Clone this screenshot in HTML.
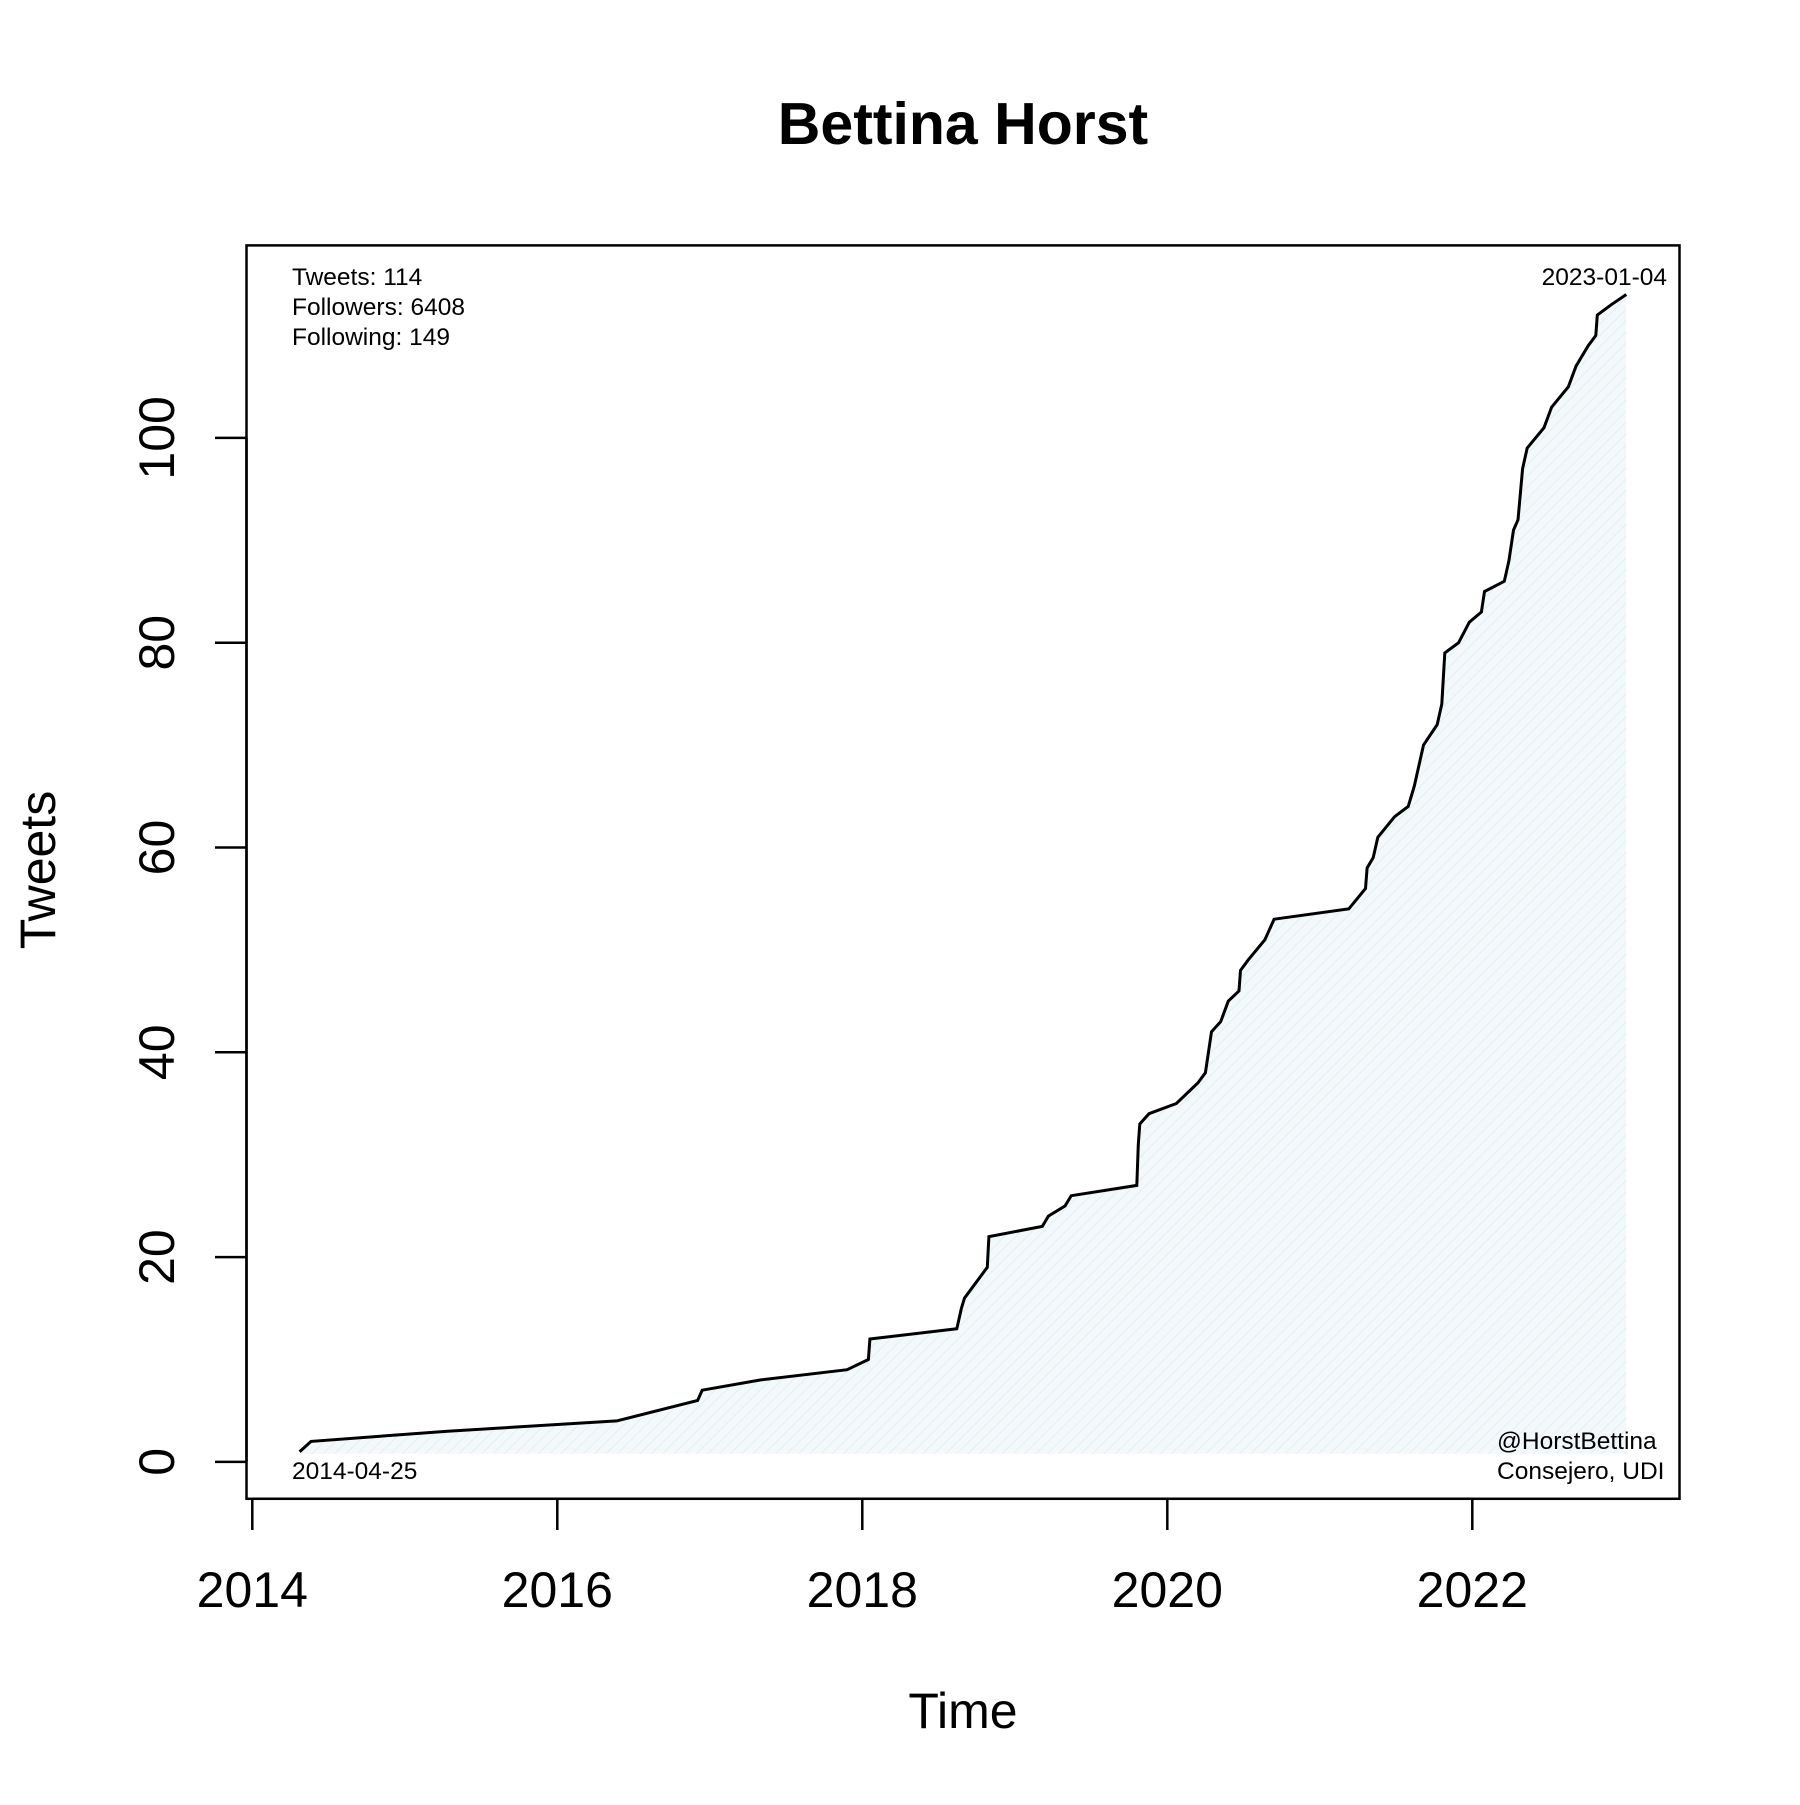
<!DOCTYPE html>
<html><head><meta charset="utf-8"><style>
body{margin:0;background:#fff}
svg text{font-family:"Liberation Sans",Arial,sans-serif}
</style></head><body>
<svg id="chart" width="1800" height="1800" viewBox="0 0 1800 1800" xmlns="http://www.w3.org/2000/svg">
<defs><pattern id="hatch" width="8" height="8" patternUnits="userSpaceOnUse" patternTransform="rotate(45)"><rect width="8" height="8" fill="#f3f9fb"/><line x1="0" y1="0" x2="0" y2="8" stroke="#e2eff3" stroke-width="2"/></pattern></defs>
<text x="963" y="144" font-size="59" font-weight="bold" text-anchor="middle">Bettina Horst</text>
<g id="plot"></g>
<rect x="246.5" y="245.4" width="1433" height="1253.4" fill="none" stroke="#000" stroke-width="2.5"/>
<g id="xaxis"></g>
<g id="yaxis"></g>
<text x="963" y="1728" font-size="50" text-anchor="middle">Time</text>
<text transform="translate(55,870) rotate(-90)" font-size="50" text-anchor="middle">Tweets</text>
<g font-size="24.5">
<text x="292" y="285">Tweets: 114</text>
<text x="292" y="315">Followers: 6408</text>
<text x="292" y="345">Following: 149</text>
</g>
<text x="1667" y="285" font-size="24.5" text-anchor="end">2023-01-04</text>
<text x="292" y="1479" font-size="24.5">2014-04-25</text>
<text x="1497" y="1449" font-size="24.5">@HorstBettina</text>
<text x="1497" y="1479" font-size="24.5">Consejero, UDI</text>
</svg>
<script>
const years=[2014.31,2014.385,2015.28,2016.39,2016.92,2016.95,2017.33,2017.90,2018.04,2018.05,2018.62,2018.65,2018.67,2018.82,2018.83,2019.18,2019.22,2019.33,2019.37,2019.80,2019.81,2019.82,2019.88,2020.06,2020.20,2020.25,2020.29,2020.35,2020.40,2020.47,2020.48,2020.53,2020.64,2020.70,2021.19,2021.30,2021.31,2021.35,2021.38,2021.49,2021.58,2021.62,2021.68,2021.77,2021.80,2021.82,2021.91,2021.98,2022.06,2022.08,2022.21,2022.24,2022.27,2022.30,2022.33,2022.36,2022.47,2022.52,2022.63,2022.68,2022.76,2022.81,2022.82,2022.91,2023.01];
const counts=[1,2,3,4,6,7,8,9,10,12,13,15,16,19,22,23,24,25,26,27,31,33,34,35,37,38,42,43,45,46,48,49,51,53,54,56,58,59,61,63,64,66,70,72,74,79,80,82,83,85,86,88,91,92,97,99,101,103,105,107,109,110,112,113,114];
const xTicks=[2014,2016,2018,2020,2022];
const yTicks=[0,20,40,60,80,100];
const NS='http://www.w3.org/2000/svg';
const sx=y=>252.3+(y-2014)*152.5;
const sy=c=>1461.9-c*10.24;
const plot=document.getElementById('plot');
const pts=years.map((y,i)=>sx(y).toFixed(1)+','+sy(counts[i]).toFixed(1));
const base=sy(0.8);
const area=document.createElementNS(NS,'polygon');
area.setAttribute('points',pts.join(' ')+' '+sx(years[years.length-1]).toFixed(1)+','+base+' '+sx(years[0]).toFixed(1)+','+base);
area.setAttribute('fill','url(#hatch)');


plot.appendChild(area);
const line=document.createElementNS(NS,'polyline');
line.setAttribute('points',pts.join(' '));
line.setAttribute('fill','none');line.setAttribute('stroke','#000');line.setAttribute('stroke-width','3');


plot.appendChild(line);
const xa=document.getElementById('xaxis');
const xl=document.createElementNS(NS,'line');
xl.setAttribute('x1',sx(xTicks[0]));xl.setAttribute('x2',sx(xTicks[xTicks.length-1]));xl.setAttribute('y1',1498.8);xl.setAttribute('y2',1498.8);xl.setAttribute('stroke','#000');xl.setAttribute('stroke-width','2.5');


xa.appendChild(xl);
xTicks.forEach(t=>{
 const l=document.createElementNS(NS,'line');
 l.setAttribute('x1',sx(t));l.setAttribute('x2',sx(t));l.setAttribute('y1',1498.8);l.setAttribute('y2',1530);l.setAttribute('stroke','#000');l.setAttribute('stroke-width','2.5');
 
 
 xa.appendChild(l);
 const tx=document.createElementNS(NS,'text');
 tx.setAttribute('x',sx(t));tx.setAttribute('y',1607);tx.setAttribute('font-size','50');tx.setAttribute('text-anchor','middle');tx.textContent=t;
 
 
 xa.appendChild(tx);
});
const ya=document.getElementById('yaxis');
const yl=document.createElementNS(NS,'line');
yl.setAttribute('x1',246.5);yl.setAttribute('x2',246.5);yl.setAttribute('y1',sy(yTicks[0]));yl.setAttribute('y2',sy(yTicks[yTicks.length-1]));yl.setAttribute('stroke','#000');yl.setAttribute('stroke-width','2.5');


ya.appendChild(yl);
yTicks.forEach(t=>{
 const l=document.createElementNS(NS,'line');
 l.setAttribute('x1',215);l.setAttribute('x2',246.5);l.setAttribute('y1',sy(t));l.setAttribute('y2',sy(t));l.setAttribute('stroke','#000');l.setAttribute('stroke-width','2.5');
 
 
 ya.appendChild(l);
 const tx=document.createElementNS(NS,'text');
 tx.setAttribute('transform','translate(174,'+sy(t)+') rotate(-90)');tx.setAttribute('font-size','50');tx.setAttribute('text-anchor','middle');tx.textContent=t;
 
 
 ya.appendChild(tx);
});
</script>
</body></html>
